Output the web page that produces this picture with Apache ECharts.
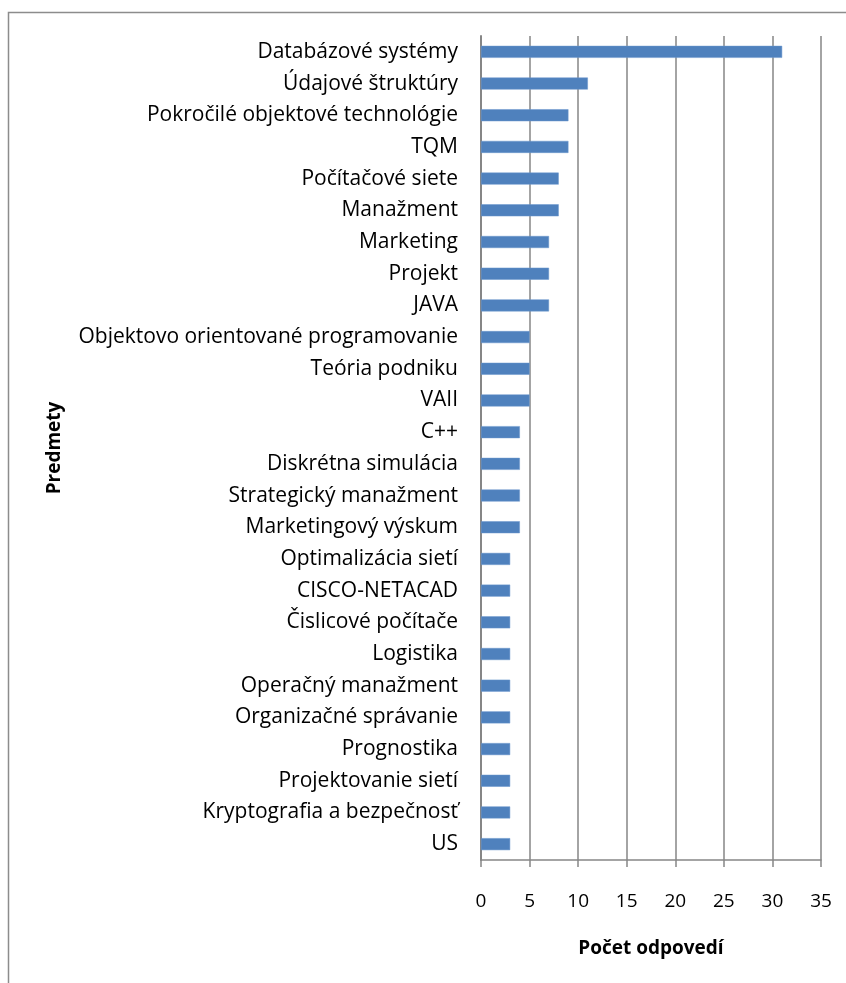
<!DOCTYPE html>
<html>
<head>
<meta charset="utf-8">
<script src="https://cdn.jsdelivr.net/npm/echarts@6/dist/echarts.min.js"></script>
<style>
  html, body { margin: 0; padding: 0; background: #fff; }
  #chart { width: 846px; height: 983px; }
</style>
</head>
<body>
<div id="chart"></div>
<script>
// predmety zhora nadol
var predmety = [
  'Databázové systémy', 'Údajové štruktúry', 'Pokročilé objektové technológie', 'TQM',
  'Počítačové siete', 'Manažment', 'Marketing', 'Projekt', 'JAVA',
  'Objektovo orientované programovanie', 'Teória podniku', 'VAII', 'C++',
  'Diskrétna simulácia', 'Strategický manažment', 'Marketingový výskum',
  'Optimalizácia sietí', 'CISCO-NETACAD', 'Čislicové počítače', 'Logistika',
  'Operačný manažment', 'Organizačné správanie', 'Prognostika',
  'Projektovanie sietí', 'Kryptografia a bezpečnosť', 'US'
];
var pocty = [31, 11, 9, 9, 8, 8, 7, 7, 7, 5, 5, 5, 4, 4, 4, 4, 3, 3, 3, 3, 3, 3, 3, 3, 3, 3];
var xTicks = { min: 0, max: 35, interval: 5 };

var font = 'Open Sans';
var chart = echarts.init(document.getElementById('chart'));

chart.setOption({
  animation: false,
  textStyle: { fontFamily: font },
  grid: { left: 481, right: 25, top: 36, bottom: 123 },
  graphic: [{
    type: 'rect',
    shape: { x: 8.5, y: 12.5, width: 900, height: 1000 },
    style: { fill: 'none', stroke: '#8c8c8c', lineWidth: 1.5 },
    silent: true
  }],
  xAxis: {
    type: 'value',
    min: xTicks.min,
    max: xTicks.max,
    interval: xTicks.interval,
    name: 'Počet odpovedí',
    nameLocation: 'middle',
    nameGap: 79,
    nameTextStyle: { fontFamily: font, fontWeight: 'bold', fontSize: 19, color: '#000' },
    axisLine: { show: true, lineStyle: { color: '#868686', width: 1.5 } },
    axisTick: { show: true, length: 7, lineStyle: { color: '#868686', width: 1.5 } },
    axisLabel: { margin: 32, fontSize: 19, color: '#000', fontFamily: font },
    splitLine: { show: true, lineStyle: { color: '#868686', width: 1.5 } }
  },
  yAxis: {
    type: 'category',
    data: predmety,
    inverse: true,
    name: 'Predmety',
    nameLocation: 'middle',
    nameRotate: 90,
    nameGap: 417,
    nameTextStyle: { fontFamily: font, fontWeight: 'bold', fontSize: 19, color: '#000' },
    axisLine: { show: true, lineStyle: { color: '#868686', width: 2 } },
    axisTick: { show: false },
    axisLabel: { margin: 23, fontSize: 21, color: '#000', fontFamily: font, interval: 0 },
    splitLine: { show: false }
  },
  series: [{
    name: 'Počet odpovedí',
    type: 'bar',
    data: pocty,
    barWidth: 12,
    itemStyle: { color: '#4F81BD', borderColor: '#6b97cc', borderWidth: 0.5 }
  }]
});
</script>
</body>
</html>
